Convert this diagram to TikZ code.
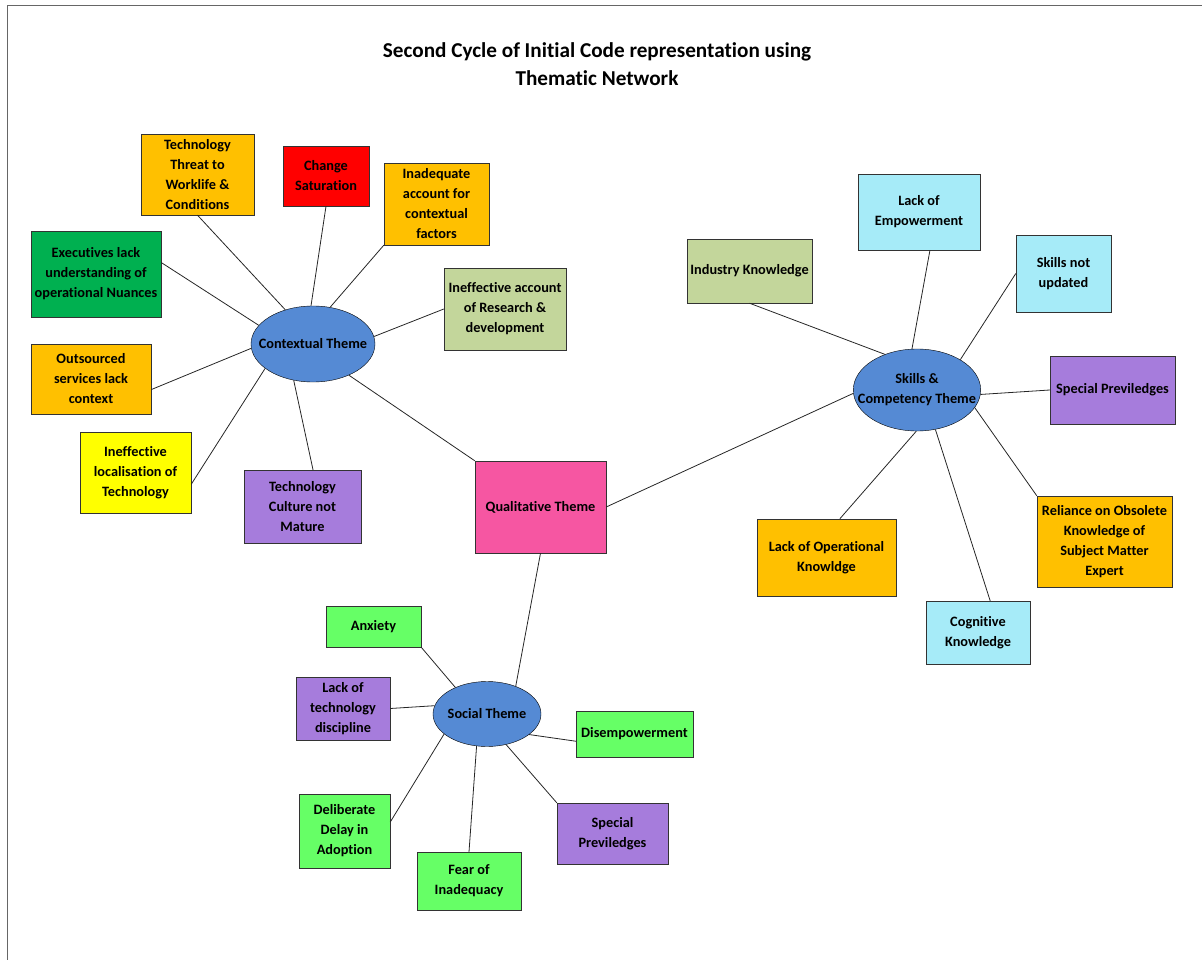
\documentclass[tikz,border=0pt]{standalone}
\usepackage{fontspec}
\setmainfont{Carlito}[Ligatures={NoCommon}]
\usetikzlibrary{shapes.geometric}
\definecolor{orng}{HTML}{FFC000}
\definecolor{rd}{HTML}{FF0000}
\definecolor{dgreen}{HTML}{00B050}
\definecolor{olive}{HTML}{C3D69B}
\definecolor{ylw}{HTML}{FFFF00}
\definecolor{purp}{HTML}{A67CDC}
\definecolor{pink}{HTML}{F656A2}
\definecolor{cyn}{HTML}{A6EBF8}
\definecolor{lgreen}{HTML}{66FF66}
\definecolor{blu}{HTML}{558AD4}

\begin{document}
\begin{tikzpicture}[x=1pt,y=-1pt,
  every node/.style={draw=black!80,align=center,inner sep=1pt,
    font=\bfseries\fontsize{14.3}{20}\selectfont},
  theme/.style={ellipse,fill=blu,draw=black,inner xsep=-14pt,inner ysep=0pt},
  lnk/.style={line width=0.8pt,black!85}]
\useasboundingbox (0,0) rectangle (1202,960);
\draw[black!60] (1202,5) -- (7,5) -- (7,960);

\node[draw=none,font=\bfseries\fontsize{21.2}{28}\selectfont] (ttl) at (597,64)
  {Second Cycle of Initial Code representation using\\Thematic Network};

\node[theme,minimum width=124,minimum height=76] (ctx) at (313,344) {Contextual Theme};
\node[fill=orng,minimum width=113,minimum height=81] (thr) at (197.5,174.5) {Technology\\Threat to\\Worklife \&\\Conditions};
\node[fill=rd,minimum width=86,minimum height=60] (chg) at (326,176) {Change\\Saturation};
\node[fill=orng,minimum width=105,minimum height=82] (inad) at (436.5,204) {Inadequate\\account for\\contextual\\factors};
\node[fill=dgreen,minimum width=130,minimum height=86] (exe) at (96,274) {Executives lack\\understanding of\\operational Nuances};
\node[fill=olive,minimum width=122,minimum height=82] (rnd) at (505,309) {Ineffective account\\of Research \&\\development};
\node[fill=orng,minimum width=120,minimum height=70] (out) at (91,379) {Outsourced\\services lack\\context};
\node[fill=ylw,minimum width=111,minimum height=81] (loc) at (135.5,472.5) {Ineffective\\localisation of\\Technology};
\node[fill=purp,minimum width=117,minimum height=73] (cul) at (302.5,506.5) {Technology\\Culture not\\Mature};

\node[fill=pink,minimum width=131,minimum height=92] (qual) at (540.5,507) {Qualitative Theme};

\node[theme,minimum width=124,minimum height=82] (skl) at (917,390) {Skills \&\\Competency Theme};
\node[fill=olive,minimum width=125,minimum height=64] (ind) at (749.5,271) {Industry Knowledge};
\node[fill=cyn,minimum width=122,minimum height=76] (emp) at (919,212) {Lack of\\Empowerment};
\node[fill=cyn,minimum width=95,minimum height=77] (upd) at (1063.5,273.5) {Skills not\\updated};
\node[fill=purp,minimum width=125,minimum height=68] (spk) at (1112.5,390) {Special Previledges};
\node[fill=orng,minimum width=135,minimum height=91] (obs) at (1104.5,541.5) {Reliance on Obsolete\\Knowledge of\\Subject Matter\\Expert};
\node[fill=orng,minimum width=139,minimum height=77] (opk) at (826.5,557.5) {Lack of Operational\\Knowldge};
\node[fill=cyn,minimum width=104,minimum height=63] (cog) at (978,632.5) {Cognitive\\Knowledge};

\node[theme,minimum width=108,minimum height=65] (soc) at (487,714) {Social Theme};
\node[fill=lgreen,minimum width=95,minimum height=41] (anx) at (373.5,626.5) {Anxiety};
\node[fill=purp,minimum width=94,minimum height=63] (dis) at (343,708.5) {Lack of\\technology\\discipline};
\node[fill=lgreen,minimum width=117,minimum height=46] (emw) at (634.5,734) {Disempowerment};
\node[fill=lgreen,minimum width=91,minimum height=74] (del) at (344.5,831) {Deliberate\\Delay in\\Adoption};
\node[fill=lgreen,minimum width=104,minimum height=58] (fear) at (469,881) {Fear of\\Inadequacy};
\node[fill=purp,minimum width=111,minimum height=61] (sps) at (612.5,833.5) {Special\\Previledges};

\draw[lnk](thr.south)--(ctx.129);
\draw[lnk](chg.south)--(ctx.93);
\draw[lnk](inad.south west)--(ctx.65);
\draw[lnk](exe.10)--(ctx.161);
\draw[lnk](rnd.west)--(ctx.7);
\draw[lnk](out.350)--(ctx.184);
\draw[lnk](loc.348)--(ctx.207);
\draw[lnk](cul.74)--(ctx.242);
\draw[lnk](qual.north west)--(ctx.319);

\draw[lnk](qual.east)--(skl.183);
\draw[lnk](ind.south)--(skl.132);
\draw[lnk](emp.286)--(skl.97);
\draw[lnk](upd.west)--(skl.35);
\draw[lnk](spk.west)--(skl.356);
\draw[lnk](obs.north west)--(skl.343);
\draw[lnk](cog.69)--(skl.295);
\draw[lnk](opk.71)--(skl.269);

\draw[lnk](qual.south)--(soc.44);
\draw[lnk](anx.south east)--(soc.140);
\draw[lnk](dis.east)--(soc.171);
\draw[lnk](emw.187)--(soc.334);
\draw[lnk](del.11)--(soc.205);
\draw[lnk](fear.north)--(soc.252);
\draw[lnk](sps.north west)--(soc.302);
\end{tikzpicture}
\end{document}
